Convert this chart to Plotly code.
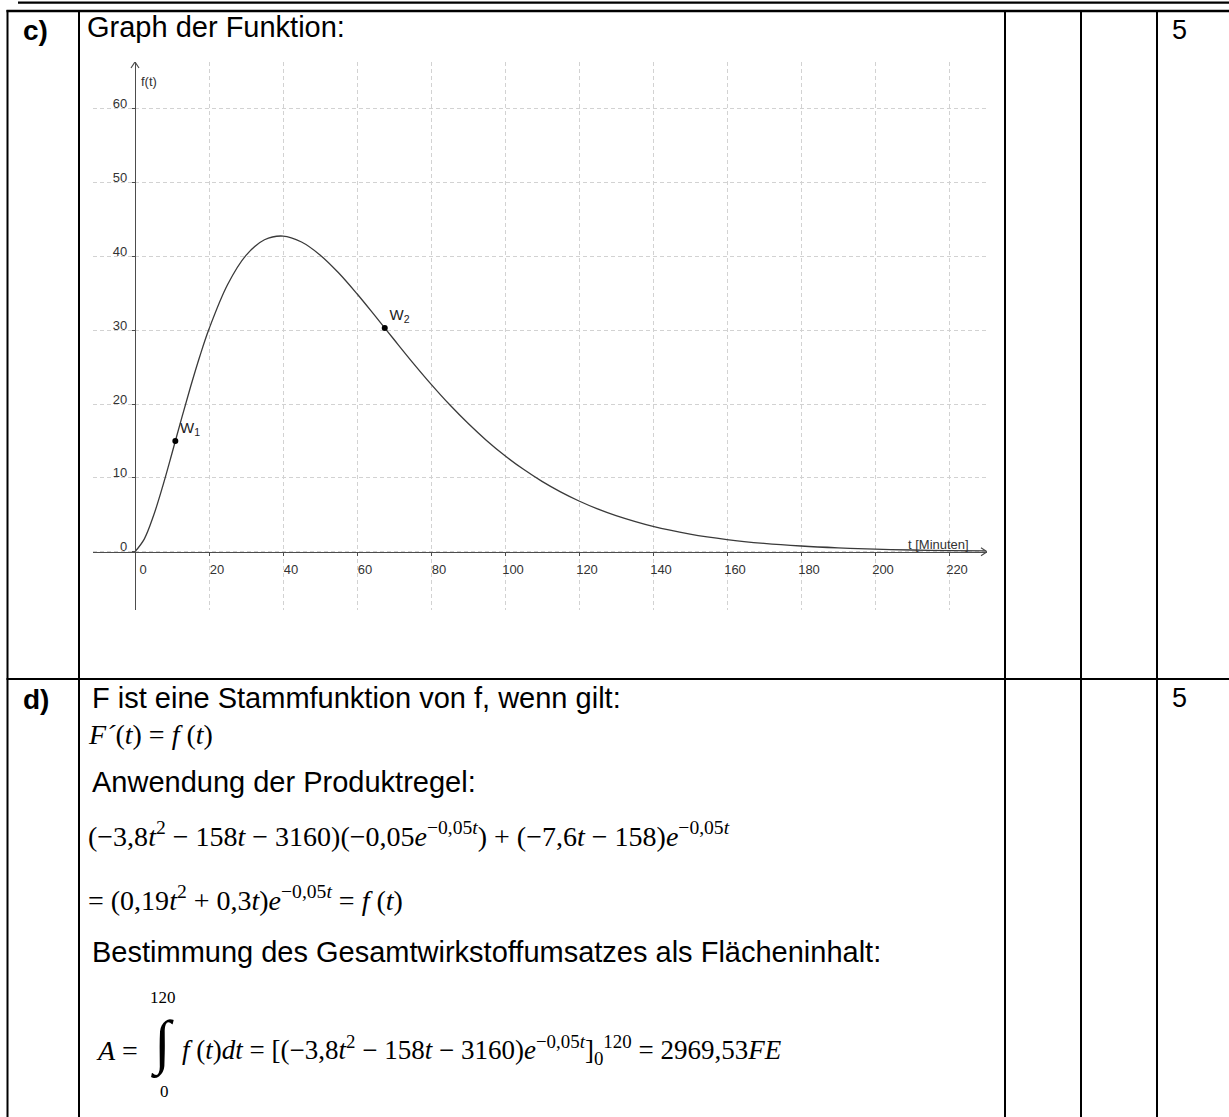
import plotly.graph_objects as go

W, H = 1229, 1117

# ---------------- data ----------------
t_values = [0, 2.5, 5, 7.5, 10, 12.5, 15, 17.5, 20, 25, 30, 35, 40, 45, 50, 55, 60, 65,
            70, 75, 80, 85, 90, 95, 100, 105, 110, 115, 120, 125, 130, 140, 150, 160,
            170, 180, 190, 200, 210, 220, 230]
f_values = [0, 1.71, 4.87, 8.89, 13.34, 17.90, 22.32, 26.45, 30.17, 36.17, 40.16, 42.27,
            42.77, 41.97, 40.22, 37.80, 34.95, 31.88, 28.75, 25.66, 22.71, 19.94, 17.40,
            15.08, 13.00, 11.16, 9.53, 8.11, 6.87, 5.80, 4.89, 3.43, 2.39, 1.65, 1.13,
            0.77, 0.52, 0.35, 0.23, 0.155, 0.10]

x_ticks = [0, 20, 40, 60, 80, 100, 120, 140, 160, 180, 200, 220]
x_tick_labels = ["0", "20", "40", "60", "80", "100", "120", "140", "160", "180", "200", "220"]
y_ticks = [0, 10, 20, 30, 40, 50, 60]
y_tick_labels = ["0", "10", "20", "30", "40", "50", "60"]

point_names = ["W<sub>1</sub>", "W<sub>2</sub>"]
point_t = [10.9, 67.5]
point_f = [15.0, 30.3]

# ---------------- helpers ----------------
def fx(p):
    return p / W


def fy(p):
    return 1 - p / H


# chart placement (pixels)
X_LEFT, X_RIGHT = 93, 987
Y_TOP, Y_BOTTOM = 62, 610
X0, Y0 = 135, 551.7
SX, SY = 3.7, 7.38  # px per unit
x_range = [(X_LEFT - X0) / SX, (X_RIGHT - X0) / SX]
y_range = [(Y0 - Y_BOTTOM) / SY, (Y0 - Y_TOP) / SY]

AXIS_COL = "#4d4d4d"
LABEL_COL = "#333333"
SANS = "Liberation Sans, Arial, sans-serif"
SERIF = "Liberation Serif, Times New Roman, serif"
TXT = 29   # body text size
MTH = 28   # formula size

fig = go.Figure()

fig.add_trace(go.Scatter(
    x=t_values, y=f_values, mode="lines", line=dict(color="#3a3a3a", width=1.3, shape="spline"),
    hoverinfo="skip", showlegend=False))

fig.add_trace(go.Scatter(
    x=point_t, y=point_f, mode="markers+text", text=point_names, textposition="top right",
    textfont=dict(family=SANS, size=15, color="#222"),
    marker=dict(color="black", size=6), showlegend=False, hoverinfo="skip"))

grid = dict(showgrid=True, gridcolor="#d2d2d2", griddash="4px,3px", gridwidth=1)

fig.update_layout(
    width=W, height=H, margin=dict(l=0, r=0, t=0, b=0),
    paper_bgcolor="white", plot_bgcolor="white", showlegend=False,
    xaxis=dict(domain=[fx(X_LEFT), fx(X_RIGHT)], range=x_range, anchor="free", position=fy(Y0),
               tickmode="array", tickvals=x_ticks, ticktext=x_tick_labels, zeroline=False,
               showline=True, linecolor=AXIS_COL, linewidth=1.2, ticks="outside", ticklen=3,
               tickcolor=AXIS_COL, tickfont=dict(family=SANS, size=13, color=LABEL_COL),
               ticklabelshift=8, ticklabelstandoff=3, **grid),
    yaxis=dict(domain=[fy(Y_BOTTOM), fy(Y_TOP)], range=y_range, anchor="free", position=fx(X0),
               tickmode="array", tickvals=y_ticks, ticktext=y_tick_labels, zeroline=False,
               showline=True, linecolor=AXIS_COL, linewidth=1.2, ticks="outside", ticklen=3,
               tickcolor=AXIS_COL, tickfont=dict(family=SANS, size=13, color=LABEL_COL),
               ticklabelshift=-5, ticklabelstandoff=2, **grid),
)

# axis arrows
ax_len, ax_w = 6, 4
xr = x_range[1]
yt = y_range[1]
fig.add_shape(type="path", xref="x", yref="y",
              path=f"M {xr - ax_len / SX},{ax_w / SY} L {xr},0 L {xr - ax_len / SX},{-ax_w / SY}",
              line=dict(color=AXIS_COL, width=1.2))
fig.add_shape(type="path", xref="x", yref="y",
              path=f"M {-ax_w / SX},{yt - ax_len / SY} L 0,{yt} L {ax_w / SX},{yt - ax_len / SY}",
              line=dict(color=AXIS_COL, width=1.2))

# axis titles
fig.add_annotation(x=fx(139), y=fy(82), xref="paper", yref="paper", text="f(t)", showarrow=False,
                   xanchor="left", yanchor="middle", font=dict(family=SANS, size=13, color=LABEL_COL))
fig.add_annotation(x=fx(971), y=fy(544), xref="paper", yref="paper", text="t [Minuten]",
                   showarrow=False, xanchor="right", yanchor="middle",
                   font=dict(family=SANS, size=13, color=LABEL_COL))

# ---------------- table lines ----------------
def hline(y, x0, x1, w=2.3):
    fig.add_shape(type="line", xref="paper", yref="paper", x0=fx(x0), x1=fx(x1), y0=fy(y), y1=fy(y),
                  line=dict(color="black", width=w))


def vline(x, y0, y1, w=2):
    fig.add_shape(type="line", xref="paper", yref="paper", x0=fx(x), x1=fx(x), y0=fy(y0), y1=fy(y1),
                  line=dict(color="black", width=w))


hline(2.7, 18, W + 2)
hline(11, 6.5, W + 2)
ROW_SEP = 679
hline(ROW_SEP, 6.5, W + 2, 2)
for xv in [7.5, 79, 1005, 1081, 1157]:
    vline(xv, 10, H + 2)

# ---------------- texts ----------------
def txt(x, y, s, size=TXT, family=SANS, anchor="left", color="black"):
    fig.add_annotation(x=fx(x), y=fy(y), xref="paper", yref="paper", text=s, showarrow=False,
                       xanchor=anchor, yanchor="middle", font=dict(family=family, size=size, color=color))


txt(21, 30, "<b>c)</b>", 28)
txt(21, 699, "<b>d)</b>", 28)
txt(1170, 30, "5", 27)
txt(1170, 698, "5", 27)
txt(85, 27, "Graph der Funktion:")

txt(90, 698, "F ist eine Stammfunktion von f, wenn gilt:")
txt(86, 734, "<i>F´</i>(<i>t</i>) = <i>f</i> (<i>t</i>)", MTH, SERIF)
txt(90, 782, "Anwendung der Produktregel:")
txt(86, 834, "(−3,8<i>t</i><sup>2</sup> − 158<i>t</i> − 3160)(−0,05<i>e</i><sup>−0,05<i>t</i></sup>)"
             " + (−7,6<i>t</i> − 158)<i>e</i><sup>−0,05<i>t</i></sup>", MTH, SERIF)
txt(86, 898, "= (0,19<i>t</i><sup>2</sup> + 0,3<i>t</i>)<i>e</i><sup>−0,05<i>t</i></sup> = <i>f</i> (<i>t</i>)",
    MTH, SERIF)
txt(90, 952, "Bestimmung des Gesamtwirkstoffumsatzes als Flächeninhalt:")
txt(94, 1050, "<i>A</i> =", MTH, SERIF)
txt(162, 1044, "∫", 60, SERIF, "center")
txt(163, 997, "120", 17, SERIF, "center")
txt(164, 1091, "0", 17, SERIF, "center")
txt(180, 1050, "<i>f</i> (<i>t</i>)<i>dt</i> = [(−3,8<i>t</i><sup>2</sup> − 158<i>t</i> − 3160)"
               "<i>e</i><sup>−0,05<i>t</i></sup>]<sub>0</sub><sup>120</sup> = 2969,53<i>FE</i>", 27, SERIF)

fig.write_html("out.html", config={"displayModeBar": False},
               post_script="document.body.style.margin='0px';")
